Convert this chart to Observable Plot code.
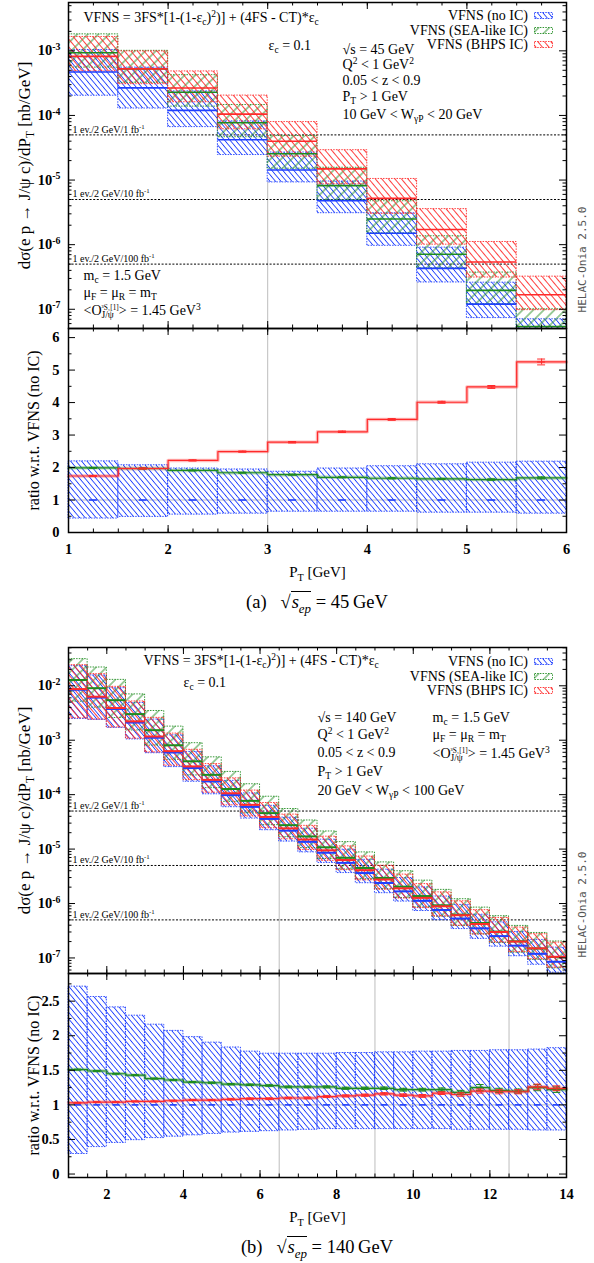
<!DOCTYPE html>
<html><head><meta charset="utf-8">
<script src="https://cdn.jsdelivr.net/npm/d3@7"></script>
<script src="https://cdn.jsdelivr.net/npm/@observablehq/plot@0.6"></script>
<style>
html,body{margin:0;padding:0;background:#fff;overflow:hidden;}
#root{position:relative;width:594px;height:1263px;font-family:"Liberation Serif",serif;color:#000;}
.leg{position:absolute;font-size:14px;line-height:16px;white-space:nowrap;text-align:right;}
.cap{position:absolute;left:68px;width:498px;text-align:center;font-size:18.5px;line-height:24px;}
.ov{border-top:1px solid #000;font-style:italic;padding-left:1px;}
.ov sub{font-size:70%;}
</style></head><body>
<svg width="0" height="0" style="position:absolute">
<defs>
<pattern id="hBlue" patternUnits="userSpaceOnUse" width="4.2" height="10" patternTransform="rotate(-40)">
<line x1="2.1" y1="-1" x2="2.1" y2="11" stroke="#1f3fff" stroke-width="0.9"/></pattern>
<pattern id="hRed" patternUnits="userSpaceOnUse" width="5" height="10" patternTransform="rotate(-40)">
<line x1="2.5" y1="-1" x2="2.5" y2="11" stroke="#ff2a2a" stroke-width="0.9"/></pattern>
<pattern id="hGreen" patternUnits="userSpaceOnUse" width="7.5" height="10" patternTransform="rotate(45)">
<line x1="3.75" y1="-1" x2="3.75" y2="11" stroke="#1e8b1e" stroke-width="0.9"/></pattern>
</defs></svg>
<div id="root"></div>
<script>
const NS = "http://www.w3.org/2000/svg";
const BLUE = "#1f3fff", GREEN = "#1e8b1e", RED = "#ff2a2a", GRAY = "#bdbdbd";
const binW = 0.5;

// ================= (a) sqrt(s_ep) = 45 GeV =================
const binLoA = [1, 1.5, 2, 2.5, 3, 3.5, 4, 4.5, 5, 5.5];
const noIC_A   = [4.7e-4, 2.67e-4, 1.2e-4, 4.2e-5, 1.43e-5, 4.8e-6, 1.5e-6, 4.3e-7, 1.2e-7, 3.2e-8];
const noIC_loA = [2.02e-4, 1.28e-4, 6.6e-5, 2.44e-5, 9.2e-6, 3.07e-6, 9.6e-7, 2.6e-7, 7.3e-8, 1.86e-8];
const noIC_hiA = [1.03e-3, 5.5e-4, 2.36e-4, 8.1e-5, 2.67e-5, 9.5e-6, 3.06e-6, 9.0e-7, 2.58e-7, 7.0e-8];
const sea_A    = [9.35e-4, 5.26e-4, 2.29e-4, 7.7e-5, 2.55e-5, 8.2e-6, 2.5e-6, 7.1e-7, 1.96e-7, 5.4e-8];
const sea_loA  = [5.5e-4, 3.2e-4, 1.37e-4, 4.6e-5, 1.5e-5, 4.9e-6, 1.5e-6, 4.3e-7, 1.2e-7, 3.3e-8];
const sea_hiA  = [1.8e-3, 1.0e-3, 4.2e-4, 1.45e-4, 4.8e-5, 1.55e-5, 4.7e-6, 1.35e-6, 3.7e-7, 1.0e-7];
const bhps_A   = [8.2e-4, 5.26e-4, 2.66e-4, 1.05e-4, 3.98e-5, 1.49e-5, 5.2e-6, 1.72e-6, 5.4e-7, 1.68e-7];
const bhps_loA = [4.8e-4, 3.05e-4, 1.6e-4, 6.1e-5, 2.3e-5, 8.6e-6, 3.0e-6, 1.0e-6, 3.1e-7, 9.7e-8];
const bhps_hiA = [1.64e-3, 9.8e-4, 4.8e-4, 2.03e-4, 7.9e-5, 2.9e-5, 1.04e-5, 3.55e-6, 1.1e-6, 3.2e-7];
const rBandLoA = [0.43, 0.48, 0.55, 0.58, 0.64, 0.64, 0.64, 0.61, 0.61, 0.58];
const rBandHiA = [2.19, 2.07, 1.97, 1.94, 1.87, 1.97, 2.04, 2.10, 2.15, 2.18];
const rSeaA    = [1.99, 1.97, 1.91, 1.84, 1.78, 1.70, 1.67, 1.65, 1.63, 1.68];
const rBhpsA   = [1.74, 1.97, 2.22, 2.49, 2.78, 3.10, 3.48, 4.01, 4.48, 5.25];
const eSeaA    = [0.01, 0.01, 0.01, 0.01, 0.01, 0.01, 0.015, 0.015, 0.02, 0.03];
const eBhpsA   = [0.015, 0.015, 0.015, 0.015, 0.02, 0.02, 0.025, 0.03, 0.045, 0.09];
const vlinesA  = [3, 4.5, 5.5];
const vlineTopA = [9.2e-6, 2.6e-7, 7.3e-8];

// ================= (b) sqrt(s_ep) = 140 GeV =================
const binLoB = [1, 1.5, 2, 2.5, 3, 3.5, 4, 4.5, 5, 5.5, 6, 6.5, 7, 7.5, 8, 8.5, 9, 9.5, 10, 10.5, 11, 11.5, 12, 12.5, 13, 13.5];
const noIC_B = [8.45e-3, 6.06e-3, 3.75e-3, 2.11e-3, 1.11e-3, 5.94e-4, 3.08e-4, 1.75e-4, 9.8e-5, 5.96e-5, 3.58e-5, 2.18e-5, 1.36e-5, 8.56e-6, 5.58e-6, 3.63e-6, 2.38e-6, 1.67e-6, 1.12e-6, 7.6e-7, 5.3e-7, 3.5e-7, 2.52e-7, 1.68e-7, 1.19e-7, 8.5e-8];
const sea_B  = [1.276e-2, 9.03e-3, 5.44e-3, 3.02e-3, 1.53e-3, 8.08e-4, 4.10e-4, 2.31e-4, 1.27e-4, 7.69e-5, 4.58e-5, 2.75e-5, 1.71e-5, 1.08e-5, 6.92e-6, 4.50e-6, 2.95e-6, 2.04e-6, 1.37e-6, 9.27e-7, 6.25e-7, 4.38e-7, 3.05e-7, 2.02e-7, 1.49e-7, 1.04e-7];
const bhps_B = [8.7e-3, 6.3e-3, 3.9e-3, 2.22e-3, 1.17e-3, 6.3e-4, 3.3e-4, 1.87e-4, 1.06e-4, 6.5e-5, 3.9e-5, 2.4e-5, 1.5e-5, 9.5e-6, 6.3e-6, 4.1e-6, 2.76e-6, 1.9e-6, 1.27e-6, 8.9e-7, 6.1e-7, 4.2e-7, 3.0e-7, 2.0e-7, 1.5e-7, 1.05e-7];
const rBandLoB = [0.29, 0.39, 0.45, 0.49, 0.52, 0.54, 0.56, 0.58, 0.60, 0.61, 0.62, 0.63, 0.64, 0.65, 0.65, 0.65, 0.65, 0.65, 0.65, 0.65, 0.64, 0.64, 0.64, 0.64, 0.63, 0.63];
const rBandHiB = [2.71, 2.56, 2.41, 2.29, 2.16, 2.07, 1.98, 1.90, 1.83, 1.77, 1.74, 1.74, 1.74, 1.74, 1.75, 1.75, 1.76, 1.76, 1.77, 1.77, 1.78, 1.78, 1.79, 1.79, 1.80, 1.82];
const seaHiFacB = [2.42, 2.40, 2.36, 2.30, 2.25, 2.20, 2.15, 2.10, 2.06, 2.02, 2.00, 1.98, 1.96, 1.95, 1.94, 1.93, 1.93, 1.92, 1.92, 1.92, 1.92, 1.92, 1.92, 1.92, 1.93, 1.93];
const seaLoFacB = [0.40, 0.44, 0.47, 0.50, 0.52, 0.54, 0.55, 0.57, 0.58, 0.59, 0.60, 0.60, 0.61, 0.61, 0.61, 0.62, 0.62, 0.62, 0.62, 0.62, 0.62, 0.62, 0.62, 0.62, 0.62, 0.62];
const bhpsHiFacB = [2.75, 2.60, 2.45, 2.32, 2.20, 2.10, 2.02, 1.95, 1.88, 1.83, 1.80, 1.79, 1.78, 1.78, 1.78, 1.78, 1.79, 1.79, 1.79, 1.80, 1.80, 1.80, 1.81, 1.81, 1.82, 1.82];
const bhpsLoFacB = [0.29, 0.38, 0.44, 0.48, 0.51, 0.54, 0.56, 0.58, 0.60, 0.61, 0.62, 0.63, 0.64, 0.64, 0.65, 0.65, 0.65, 0.65, 0.65, 0.65, 0.64, 0.64, 0.64, 0.64, 0.63, 0.63];
const rSeaB  = [1.51, 1.49, 1.45, 1.43, 1.38, 1.36, 1.33, 1.32, 1.30, 1.29, 1.28, 1.26, 1.26, 1.26, 1.24, 1.24, 1.24, 1.22, 1.22, 1.22, 1.18, 1.25, 1.21, 1.20, 1.25, 1.22];
const rBhpsB = [1.03, 1.04, 1.04, 1.05, 1.05, 1.06, 1.07, 1.07, 1.08, 1.09, 1.09, 1.10, 1.10, 1.12, 1.13, 1.14, 1.16, 1.14, 1.13, 1.17, 1.15, 1.20, 1.19, 1.19, 1.26, 1.24];
const eSeaB  = [0.005, 0.005, 0.005, 0.005, 0.006, 0.006, 0.007, 0.008, 0.009, 0.01, 0.01, 0.012, 0.012, 0.014, 0.015, 0.016, 0.018, 0.02, 0.02, 0.025, 0.03, 0.045, 0.03, 0.03, 0.045, 0.04];
const eBhpsB = [0.004, 0.004, 0.004, 0.005, 0.005, 0.006, 0.006, 0.007, 0.008, 0.009, 0.01, 0.01, 0.012, 0.012, 0.014, 0.015, 0.016, 0.018, 0.02, 0.02, 0.025, 0.03, 0.03, 0.03, 0.04, 0.035];
const vlinesB = [6.5, 9, 12.5];
const vlineTopB = [1.5e-5, 1.5e-6, 1.6e-7];

// luminosity reference lines (shared)
const lumiVals = [5e-5, 5e-6, 5e-7];
const lumiLabels = ["1 ev./2 GeV/1 fb^{-1}", "1 ev./2 GeV/10 fb^{-1}", "1 ev./2 GeV/100 fb^{-1}"];

// ---------- helpers ----------
function bandRows(lo, c, l, h) {
  return lo.map((x, i) => ({x1: x, x2: x + binW, xc: x + binW / 2, c: c[i], lo: l[i], hi: h[i]}));
}
function stepRows(lo, r) {
  const s = lo.map((x, i) => ({x, y: r[i]}));
  s.push({x: lo[lo.length - 1] + binW, y: r[r.length - 1]});
  return s;
}
function logMinors(dom) {
  const out = [];
  for (let k = -9; k <= 0; k++) for (let m = 2; m <= 9; m++) {
    const v = m * Math.pow(10, k);
    if (v > dom[0] && v < dom[1]) out.push(v);
  }
  return out;
}
function tickMarks(fw, fh, xMaj, xMin, yMaj, yMin) {
  const L = 7, l = 3.5, o = {stroke: "black", strokeWidth: 1};
  return [
    Plot.tickX(xMaj, {...o, x: d => d, insetTop: fh - L}),
    Plot.tickX(xMaj, {...o, x: d => d, insetBottom: fh - L}),
    Plot.tickX(xMin, {...o, x: d => d, insetTop: fh - l}),
    Plot.tickX(xMin, {...o, x: d => d, insetBottom: fh - l}),
    Plot.tickY(yMaj, {...o, y: d => d, insetRight: fw - L}),
    Plot.tickY(yMaj, {...o, y: d => d, insetLeft: fw - L}),
    Plot.tickY(yMin, {...o, y: d => d, insetRight: fw - l}),
    Plot.tickY(yMin, {...o, y: d => d, insetLeft: fw - l})
  ];
}
const baseStyle = {fontFamily: '"Liberation Serif", serif', fontSize: "13px", background: "transparent", overflow: "visible", color: "black"};
const W = 594, ML = 68, MR = 28, FW = W - ML - MR;

function txt(s, o) {
  return Plot.text([s], {text: d => d, frameAnchor: "top-left", textAnchor: "start", lineAnchor: "middle", fontSize: 14, ...o});
}

function topPanel(cfg) {
  const fh = cfg.height - cfg.marginTop;
  const blue = bandRows(cfg.binLo, cfg.noIC, cfg.noIClo, cfg.noIChi);
  const green = bandRows(cfg.binLo, cfg.sea, cfg.sealo, cfg.seahi);
  const red = bandRows(cfg.binLo, cfg.bhps, cfg.bhpslo, cfg.bhpshi);
  const lumi = lumiVals.map((v, i) => ({v, label: lumiLabels[i]}));
  const vl = cfg.vlines.map((x, i) => ({x, top: cfg.vlineTop[i]}));
  const band = (rows, pat, col) => Plot.rect(rows, {x1: "x1", x2: "x2", y1: "lo", y2: "hi", fill: `url(#${pat})`, stroke: col, strokeWidth: 0.9, strokeDasharray: "1.5,1.2", clip: true});
  const cen = (rows, col) => Plot.ruleY(rows, {x1: "x1", x2: "x2", y: "c", stroke: col, strokeWidth: cfg.cw, clip: true});
  const marks = [
    Plot.ruleX(vl, {x: "x", y1: () => cfg.ydom[0], y2: "top", stroke: GRAY, strokeWidth: 1}),
    Plot.ruleY(lumi, {y: "v", stroke: "black", strokeWidth: 1, strokeDasharray: "2,1.6"}),
    Plot.text(lumi, {y: "v", text: "label", frameAnchor: "left", dx: 4, dy: -5.5, textAnchor: "start", fontSize: 10}),
    band(blue, "hBlue", BLUE), band(green, "hGreen", GREEN), band(red, "hRed", RED),
    cen(blue, BLUE), cen(green, GREEN), cen(red, RED),
    ...tickMarks(FW, fh, cfg.xMaj, cfg.xMin, cfg.yMaj, logMinors(cfg.ydom)),
    Plot.axisY(cfg.yMaj, {anchor: "left", tickSize: 0, tickPadding: 8, label: null, fontSize: 14.5, fontWeight: "bold",
      tickFormat: d => `10^{${Math.round(Math.log10(d))}}`}),
    Plot.text(["dσ(e p → J/ψ c)/dP_{T} [nb/GeV]"], {text: d => d, frameAnchor: "left", dx: -44, rotate: -90, fontSize: 17, textAnchor: "middle", lineAnchor: "middle"}),
    Plot.text(["HELAC-Onia 2.5.0"], {text: d => d, frameAnchor: "right", dx: 16, dy: 94, rotate: -90, fontSize: 11, fontFamily: '"DejaVu Sans Mono", monospace', fill: "#555", textAnchor: "middle", lineAnchor: "middle"}),
    ...cfg.texts,
    Plot.frame({stroke: "black", strokeWidth: 1.5})
  ];
  return Plot.plot({width: W, height: cfg.height, marginLeft: ML, marginRight: MR, marginTop: cfg.marginTop, marginBottom: 0,
    x: {domain: cfg.xdom, axis: null}, y: {type: "log", domain: cfg.ydom, axis: null}, style: baseStyle, marks});
}

function ratioPanel(cfg) {
  const fh = 204;
  const band = bandRows(cfg.binLo, cfg.binLo.map(() => 1), cfg.rLo, cfg.rHi);
  const pts = (r, e) => cfg.binLo.map((x, i) => ({xc: x + binW / 2, r: r[i], e: e[i]}));
  const sea = pts(cfg.rSea, cfg.eSea), bh = pts(cfg.rBhps, cfg.eBhps);
  const cap = cfg.cap;
  const err = (rows, col) => [
    Plot.ruleY(rows, {x1: d => d.xc - cfg.dash, x2: d => d.xc + cfg.dash, y: "r", stroke: col, strokeWidth: 2.2, strokeOpacity: 0.6}),
    Plot.ruleX(rows, {x: "xc", y1: d => d.r - d.e, y2: d => d.r + d.e, stroke: col, strokeWidth: 1}),
    Plot.ruleY(rows, {x1: d => d.xc - cap, x2: d => d.xc + cap, y: d => d.r + d.e, stroke: col, strokeWidth: 1}),
    Plot.ruleY(rows, {x1: d => d.xc - cap, x2: d => d.xc + cap, y: d => d.r - d.e, stroke: col, strokeWidth: 1})
  ];
  const marks = [
    Plot.ruleX(cfg.vlines, {stroke: GRAY, strokeWidth: 1}),
    Plot.ruleY([1], {stroke: GRAY, strokeWidth: 1}),
    Plot.rect(band, {x1: "x1", x2: "x2", y1: "lo", y2: "hi", fill: "url(#hBlue)", stroke: BLUE, strokeWidth: 0.9, strokeDasharray: "1.5,1.2"}),
    Plot.ruleY(band, {x1: d => d.xc - cfg.dash, x2: d => d.xc + cfg.dash, y: "c", stroke: BLUE, strokeWidth: 1.6}),
    Plot.line(stepRows(cfg.binLo, cfg.rSea), {x: "x", y: "y", curve: "step-after", stroke: GREEN, strokeWidth: 3.5, strokeOpacity: 0.3}),
    Plot.line(stepRows(cfg.binLo, cfg.rSea), {x: "x", y: "y", curve: "step-after", stroke: GREEN, strokeWidth: 1.2}),
    Plot.line(stepRows(cfg.binLo, cfg.rBhps), {x: "x", y: "y", curve: "step-after", stroke: RED, strokeWidth: 3.5, strokeOpacity: 0.3}),
    Plot.line(stepRows(cfg.binLo, cfg.rBhps), {x: "x", y: "y", curve: "step-after", stroke: RED, strokeWidth: 1.2}),
    ...err(sea, GREEN), ...err(bh, RED),
    ...tickMarks(FW, fh, cfg.xMaj, cfg.xMin, cfg.yMaj, cfg.yMin),
    Plot.axisX(cfg.xLab, {anchor: "bottom", tickSize: 0, tickPadding: 11, label: null, fontSize: 14.5, fontWeight: "bold", tickFormat: d => String(d)}),
    Plot.axisY(cfg.yMaj, {anchor: "left", tickSize: 0, tickPadding: 9, label: null, fontSize: 14.5, fontWeight: "bold", tickFormat: d => String(d)}),
    Plot.text(["ratio w.r.t. VFNS (no IC)"], {text: d => d, frameAnchor: "left", dx: -35, rotate: -90, fontSize: 16, textAnchor: "middle", lineAnchor: "middle"}),
    Plot.text(["P_{T} [GeV]"], {text: d => d, frameAnchor: "bottom", dy: 40, fontSize: 15, lineAnchor: "middle"}),
    Plot.frame({stroke: "black", strokeWidth: 1.5})
  ];
  return Plot.plot({width: W, height: fh + 58, marginLeft: ML, marginRight: MR, marginTop: 0, marginBottom: 58,
    x: {domain: cfg.xdom, axis: null}, y: {domain: cfg.ydom, axis: null}, style: baseStyle, marks});
}

function richify(root) {
  root.querySelectorAll("text").forEach(t => {
    const s = t.textContent;
    if (!/[_^]\{/.test(s)) return;
    const fs = parseFloat(getComputedStyle(t).fontSize) || 13;
    while (t.firstChild) t.removeChild(t.firstChild);
    const re = /([_^])\{([^}]*)\}/g;
    const parts = []; let last = 0, m;
    while ((m = re.exec(s))) {
      if (m.index > last) parts.push(["n", s.slice(last, m.index)]);
      parts.push([m[1], m[2]]); last = re.lastIndex;
    }
    if (last < s.length) parts.push(["n", s.slice(last)]);
    let cur = 0, prev = null;
    for (const [k, str] of parts) {
      const ts = document.createElementNS(NS, "tspan");
      const off = k === "_" ? 0.24 * fs : k === "^" ? -0.38 * fs : 0;
      ts.setAttribute("dy", (off - cur).toFixed(2)); cur = off;
      if (k !== "n") ts.setAttribute("font-size", (0.68 * fs).toFixed(2));
      ts.textContent = str;
      t.appendChild(ts);
      if (k === "^" && prev && prev[0] === "_") {
        ts.setAttribute("dx", (-prev[1].getComputedTextLength()).toFixed(2));
        ts.setAttribute("font-size", (0.52 * fs).toFixed(2));
      }
      prev = [k, ts];
    }
  });
}

const root = document.getElementById("root");
function place(el, top) {
  el.style.position = "absolute"; el.style.left = "0px"; el.style.top = top + "px";
  root.appendChild(el); richify(el);
}
function legend(ys) {
  const items = [["VFNS (no IC)", "hBlue", BLUE], ["VFNS (SEA-like IC)", "hGreen", GREEN], ["VFNS (BHPS IC)", "hRed", RED]];
  items.forEach(([lab, pat, col], i) => {
    const d = document.createElement("div");
    d.className = "leg"; d.style.right = (W - 528) + "px"; d.style.top = (ys[i] - 8) + "px";
    d.textContent = lab; root.appendChild(d);
    const s = document.createElementNS(NS, "svg");
    s.setAttribute("width", 20); s.setAttribute("height", 8);
    s.style.position = "absolute"; s.style.left = "534px"; s.style.top = (ys[i] - 4) + "px";
    s.innerHTML = `<rect x="0.5" y="0.5" width="18" height="6" fill="url(#${pat})" stroke="${col}" stroke-width="0.9" stroke-dasharray="1.5,1.2"/>`;
    root.appendChild(s);
  });
}
function caption(tag, val, top) {
  const d = document.createElement("div");
  d.className = "cap"; d.style.top = top + "px";
  d.innerHTML = `(${tag})&ensp;&nbsp;√<span class="ov">s<sub>ep</sub></span> = ${val}&thinsp;GeV`;
  root.appendChild(d);
}

// ---- figure (a) ----
const yMajA = [1e-7, 1e-6, 1e-5, 1e-4, 1e-3];
place(topPanel({
  height: 328, marginTop: 2, xdom: [1, 6], ydom: [5.04e-8, 5.6e-3], cw: 1.6,
  binLo: binLoA, noIC: noIC_A, noIClo: noIC_loA, noIChi: noIC_hiA, sea: sea_A, sealo: sea_loA, seahi: sea_hiA,
  bhps: bhps_A, bhpslo: bhps_loA, bhpshi: bhps_hiA, vlines: vlinesA, vlineTop: vlineTopA,
  xMaj: [1, 2, 3, 4, 5, 6], xMin: d3.range(1, 6.001, 0.25), yMaj: yMajA,
  texts: [
    txt("VFNS = 3FS*[1-(1-ε_{c})^{2})] + (4FS - CT)*ε_{c}", {dx: 15, dy: 15}),
    txt("ε_{c} = 0.1", {dx: 200, dy: 43}),
    txt("√s = 45 GeV", {dx: 274, dy: 47}),
    txt("Q^{2} < 1 GeV^{2}", {dx: 274, dy: 62}),
    txt("0.05 < z < 0.9", {dx: 274, dy: 78}),
    txt("P_{T} > 1 GeV", {dx: 274, dy: 94}),
    txt("10 GeV < W_{γP} < 20 GeV", {dx: 274, dy: 112}),
    txt("m_{c} = 1.5 GeV", {dx: 15, dy: 273}),
    txt("μ_{F} = μ_{R} = m_{T}", {dx: 15, dy: 290}),
    txt("<O_{J/ψ}^{³S₁[1]}> = 1.45 GeV^{3}", {dx: 15, dy: 308})
  ]
}), 0);
legend([16, 31, 45]);
place(ratioPanel({
  xdom: [1, 6], ydom: [0, 6.28], binLo: binLoA, rLo: rBandLoA, rHi: rBandHiA, rSea: rSeaA, rBhps: rBhpsA,
  eSea: eSeaA, eBhps: eBhpsA, vlines: vlinesA, cap: 0.04, dash: 0.04,
  xMaj: [1, 2, 3, 4, 5, 6], xMin: d3.range(1, 6.001, 0.25), xLab: [1, 2, 3, 4, 5, 6],
  yMaj: [0, 1, 2, 3, 4, 5, 6], yMin: d3.range(0.5, 6.1, 1)
}), 328);
caption("a", "45", 590);

// ---- figure (b) ----
place(topPanel({
  height: 353, marginTop: 27, xdom: [1, 14], ydom: [5.18e-8, 5.05e-2], cw: 2,
  binLo: binLoB, noIC: noIC_B, noIClo: noIC_B.map((c, i) => c * rBandLoB[i]), noIChi: noIC_B.map((c, i) => c * rBandHiB[i]),
  sea: sea_B, sealo: sea_B.map((c, i) => c * seaLoFacB[i]), seahi: sea_B.map((c, i) => c * seaHiFacB[i]),
  bhps: bhps_B, bhpslo: bhps_B.map((c, i) => c * bhpsLoFacB[i]), bhpshi: bhps_B.map((c, i) => c * bhpsHiFacB[i]),
  vlines: vlinesB, vlineTop: vlineTopB,
  xMaj: [2, 4, 6, 8, 10, 12, 14], xMin: d3.range(1, 14.001, 0.5), yMaj: [1e-7, 1e-6, 1e-5, 1e-4, 1e-3, 1e-2],
  texts: [
    txt("VFNS = 3FS*[1-(1-ε_{c})^{2})] + (4FS - CT)*ε_{c}", {dx: 75, dy: 13}),
    txt("ε_{c} = 0.1", {dx: 115, dy: 35}),
    txt("√s = 140 GeV", {dx: 249, dy: 70}),
    txt("Q^{2} < 1 GeV^{2}", {dx: 249, dy: 87}),
    txt("0.05 < z < 0.9", {dx: 249, dy: 105}),
    txt("P_{T} > 1 GeV", {dx: 249, dy: 124}),
    txt("20 GeV < W_{γP} < 100 GeV", {dx: 249, dy: 143}),
    txt("m_{c} = 1.5 GeV", {dx: 364, dy: 70}),
    txt("μ_{F} = μ_{R} = m_{T}", {dx: 364, dy: 87}),
    txt("<O_{J/ψ}^{³S₁[1]}> = 1.45 GeV^{3}", {dx: 364, dy: 106})
  ]
}), 620);
legend([662, 677, 691]);
place(ratioPanel({
  xdom: [1, 14], ydom: [-0.05, 2.9], binLo: binLoB, rLo: rBandLoB, rHi: rBandHiB, rSea: rSeaB, rBhps: rBhpsB,
  eSea: eSeaB, eBhps: eBhpsB, vlines: vlinesB, cap: 0.1, dash: 0.09,
  xMaj: [2, 4, 6, 8, 10, 12, 14], xMin: d3.range(1, 14.001, 0.5), xLab: [2, 4, 6, 8, 10, 12, 14],
  yMaj: [0, 0.5, 1, 1.5, 2, 2.5], yMin: d3.range(0.25, 2.9, 0.5)
}), 973);
caption("b", "140", 1235);
</script></body></html>
